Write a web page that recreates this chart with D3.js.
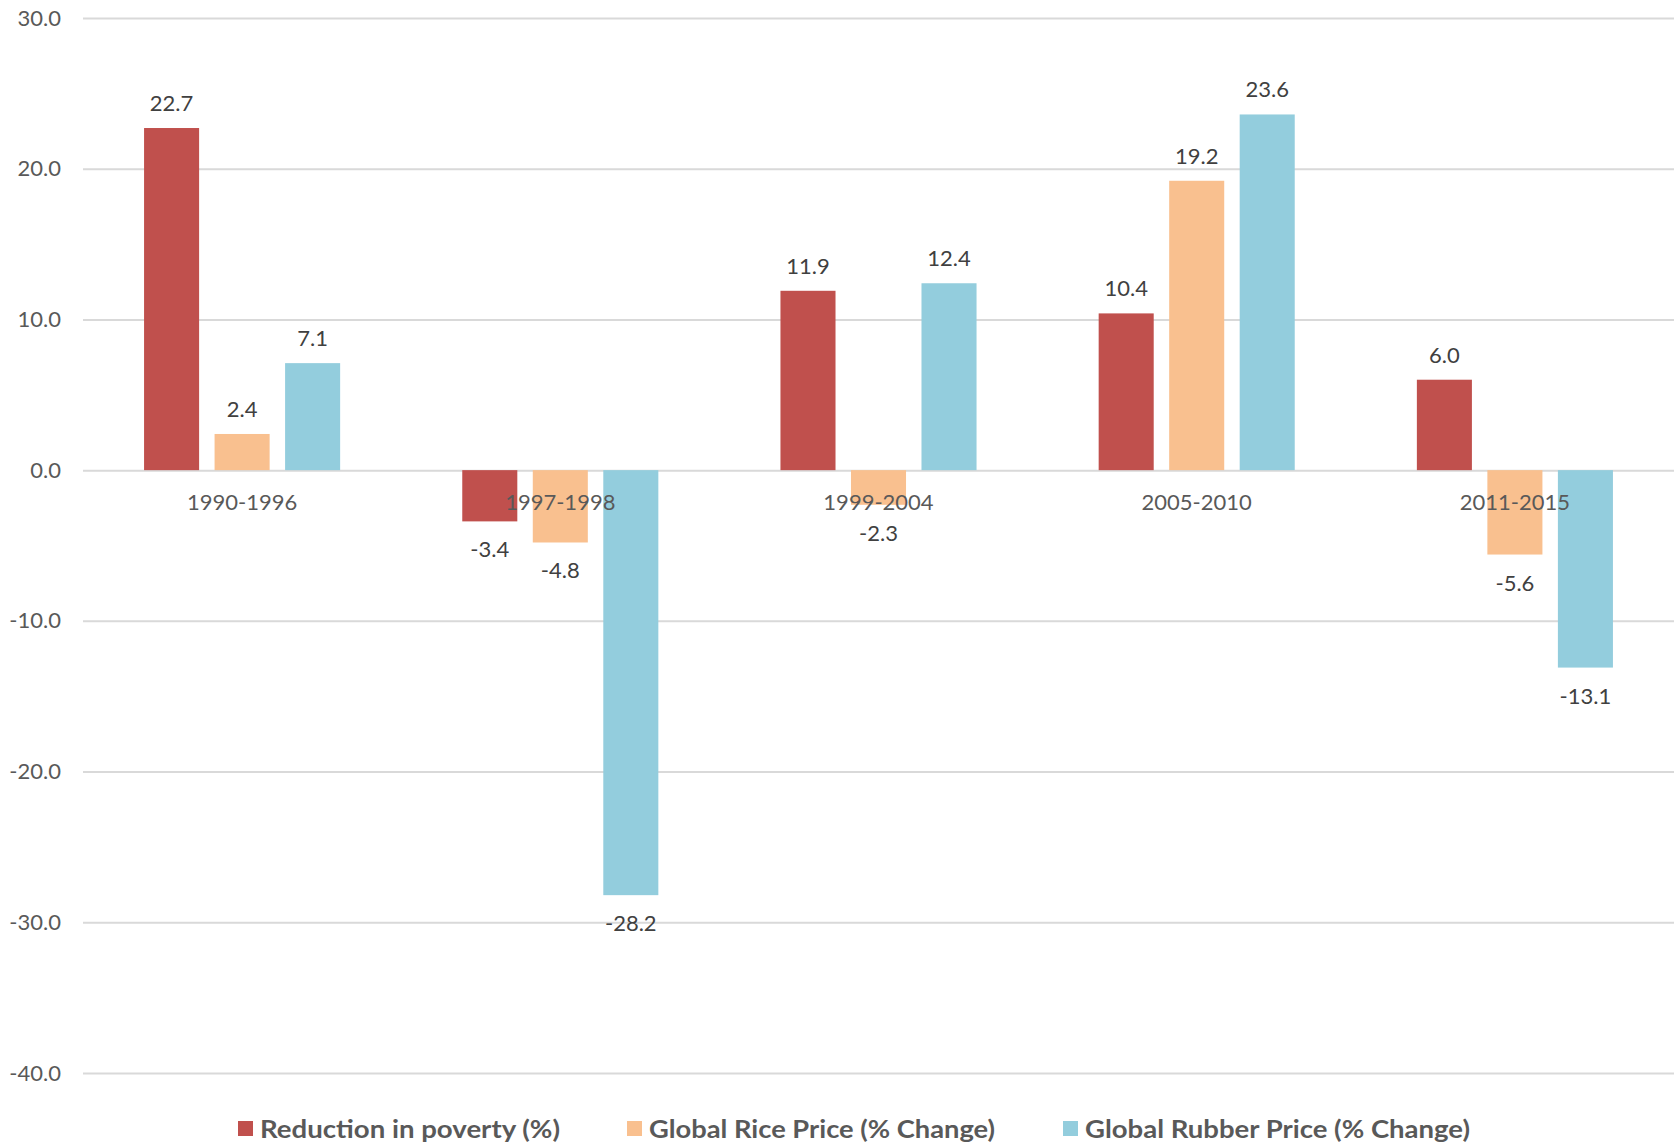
<!DOCTYPE html>
<html><head><meta charset="utf-8">
<script src="https://cdn.jsdelivr.net/npm/d3@7"></script>
<style>body{margin:0;background:#fff;}svg{display:block;}</style>
</head><body>
<svg id="c" width="1680" height="1145"></svg>
<script>
const categories = ["1990-1996","1997-1998","1999-2004","2005-2010","2011-2015"];
const seriesNames = ["Reduction in poverty (%)","Global Rice Price (% Change)","Global Rubber Price (% Change)"];
const povertyValues = [22.7, -3.4, 11.9, 10.4, 6.0];
const riceValues = [2.4, -4.8, -2.3, 19.2, -5.6];
const rubberValues = [7.1, -28.2, 12.4, 23.6, -13.1];
const yTicks = [30, 20, 10, 0, -10, -20, -30, -40];
const colors = ["#C0504D", "#F9C08F", "#93CDDD"];

(function () {
const series = [povertyValues, riceValues, rubberValues];
const svg = d3.select("#c");
const mLeft = 83, mRight = 1674, mTop = 18, mBottom = 1073;
const font = "Lato, 'Open Sans', sans-serif";
const fmt = d => d3.format(".1f")(d).replace("\u2212", "-");

const y = d3.scaleLinear().domain([-40, 30]).range([mBottom, mTop]);
const x0 = d3.scaleBand().domain(categories).range([mLeft, mRight]).padding(0);
const bw = x0.bandwidth();
const barW = bw * 0.173, pitch = bw * 0.2216;

// gridlines
const yAxis = d3.axisLeft(y).tickValues(yTicks).tickFormat(fmt).tickSize(-(mRight-mLeft)).tickPadding(22);
const gAxis = svg.append("g").attr("transform", `translate(${mLeft},0)`).call(yAxis);
gAxis.select(".domain").remove();
gAxis.selectAll(".tick line").attr("stroke", "#d9d9d9").attr("stroke-width", 2);
gAxis.selectAll(".tick text").attr("fill", "#595959").style("font-family", font).style("font-size", "22px");

// bars
series.forEach((vals, si) => {
  svg.append("g").selectAll("rect").data(vals).join("rect")
    .attr("x", (d, i) => x0(categories[i]) + bw/2 + (si-1)*pitch - barW/2)
    .attr("y", d => y(Math.max(0, d)))
    .attr("width", barW)
    .attr("height", d => Math.abs(y(d) - y(0)))
    .attr("fill", colors[si]);
});

// category labels
svg.append("g").selectAll("text").data(categories).join("text")
  .attr("x", d => x0(d) + bw/2).attr("y", y(0) + 40)
  .attr("text-anchor", "middle").attr("fill", "#595959")
  .style("font-family", font).style("font-size", "22px").text(d => d);

// data labels
series.forEach((vals, si) => {
  svg.append("g").selectAll("text").data(vals).join("text")
    .attr("x", (d, i) => x0(categories[i]) + bw/2 + (si-1)*pitch)
    .attr("y", d => d >= 0 ? y(d) - 17 : y(d) + 36)
    .attr("text-anchor", "middle").attr("fill", "#404040")
    .style("font-family", font).style("font-size", "22px")
    .text(fmt);
});

// legend
const legendX = [238, 627, 1063];
const legendW = [300, 346, 385];
const lg = svg.append("g");
seriesNames.forEach((n, i) => {
  lg.append("rect").attr("x", legendX[i]).attr("y", 1121).attr("width", 15).attr("height", 15).attr("fill", colors[i]);
  lg.append("text").attr("x", legendX[i] + 22).attr("y", 1138)
    .attr("fill", "#595959").style("font-family", font).style("font-size", "25px").style("font-weight", "bold")
    .attr("textLength", legendW[i]).attr("lengthAdjust", "spacingAndGlyphs").text(n);
});
})();
</script>
</body></html>
